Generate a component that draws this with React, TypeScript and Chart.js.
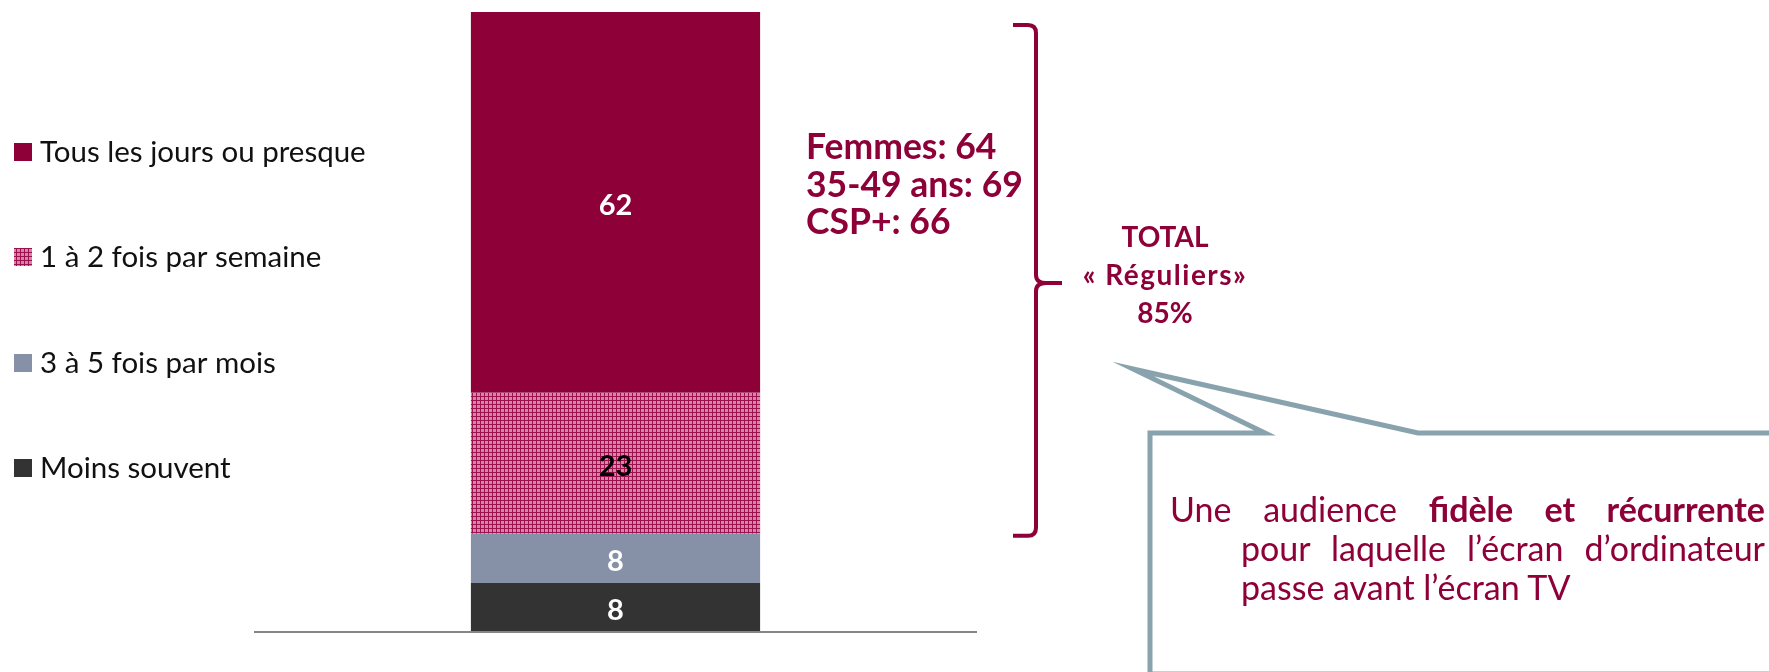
import React, { useEffect, useRef } from "react";
import { Chart, registerables } from "chart.js";

Chart.register(...registerables);

// ---- Data ----
const categories = ["Total"];
const seriesNames = [
  "Moins souvent",
  "3 à 5 fois par mois",
  "1 à 2 fois par semaine",
  "Tous les jours ou presque",
];
const moinsSouvent = [8];
const troisACinqParMois = [8];
const unADeuxParSemaine = [23];
const tousLesJours = [62];
const profileLines = ["Femmes: 64", "35-49 ans: 69", "CSP+: 66"];
const totalLines = ["TOTAL", "« Réguliers»", "85%"];
const reguliersFromValue = 16; // brace spans the "réguliers" part of the bar

// ---- Styles ----
const MAGENTA = "#8E0038";
const GREY_BLUE = "#8690A6";
const DARK = "#333333";
const CALLOUT = "#88A3AE";
const FONT = "Lato, 'Open Sans', sans-serif";

function makePattern(): CanvasPattern | string {
  const c = document.createElement("canvas");
  c.width = 4;
  c.height = 4;
  const x = c.getContext("2d");
  if (!x) return "#BA5483";
  x.fillStyle = "#D486AA";
  x.fillRect(0, 0, 4, 4);
  x.fillStyle = "#9C124E";
  x.fillRect(0, 0, 4, 1);
  x.fillRect(0, 0, 1, 4);
  const p = x.createPattern(c, "repeat");
  return p || "#BA5483";
}

export default function App() {
  const ref = useRef<HTMLCanvasElement | null>(null);

  useEffect(() => {
    const canvas = ref.current;
    if (!canvas) return;
    const pattern = makePattern();
    const colors = [DARK, GREY_BLUE, pattern, MAGENTA];
    const labelColors = ["#ffffff", "#ffffff", "#000000", "#ffffff"];
    const values = [moinsSouvent, troisACinqParMois, unADeuxParSemaine, tousLesJours];
    const total = values.reduce((s, v) => s + v[0], 0);

    const overlay = {
      id: "overlay",
      afterDatasetsDraw(chart: any) {
        const ctx = chart.ctx;
        ctx.save();
        ctx.font = `bold 29px ${FONT}`;
        ctx.textAlign = "center";
        ctx.textBaseline = "middle";
        chart.data.datasets.forEach((ds: any, i: number) => {
          const meta = chart.getDatasetMeta(i);
          meta.data.forEach((el: any, j: number) => {
            ctx.fillStyle = labelColors[i];
            ctx.fillText(String(ds.data[j]), el.x, (el.y + el.base) / 2 + 3);
          });
        });
        ctx.restore();
      },
      afterDraw(chart: any) {
        const ctx = chart.ctx;
        const area = chart.chartArea;
        const yScale = chart.scales.y;
        ctx.save();
        // axis line
        ctx.strokeStyle = "#868686";
        ctx.lineWidth = 2;
        ctx.beginPath();
        ctx.moveTo(area.left, area.bottom);
        ctx.lineTo(area.right, area.bottom);
        ctx.stroke();

        // legend (top to bottom = reverse of stacking order)
        const rows = [152, 257, 363, 468];
        ctx.font = `29.5px ${FONT}`;
        ctx.textAlign = "left";
        ctx.textBaseline = "alphabetic";
        for (let k = 0; k < 4; k++) {
          const di = 3 - k;
          ctx.fillStyle = colors[di];
          ctx.fillRect(14, rows[k] - 9, 18, 18);
          ctx.fillStyle = "#111111";
          ctx.fillText(seriesNames[di], 40, rows[k] + 10);
        }

        // brace
        const bx = 1036;
        const top = 25;
        const bottom = yScale.getPixelForValue(reguliersFromValue) + 2;
        const mid = 283;
        ctx.strokeStyle = MAGENTA;
        ctx.lineWidth = 4;
        ctx.lineJoin = "round";
        ctx.beginPath();
        ctx.moveTo(1013, top);
        ctx.lineTo(1028, top);
        ctx.quadraticCurveTo(bx, top, bx, top + 8);
        ctx.lineTo(bx, mid - 8);
        ctx.quadraticCurveTo(bx, mid, bx + 10, mid);
        ctx.lineTo(1062, mid);
        ctx.moveTo(bx + 10, mid);
        ctx.quadraticCurveTo(bx, mid, bx, mid + 8);
        ctx.lineTo(bx, bottom - 8);
        ctx.quadraticCurveTo(bx, bottom, 1028, bottom);
        ctx.lineTo(1013, bottom);
        ctx.stroke();

        // profile text
        ctx.fillStyle = MAGENTA;
        ctx.font = `bold 35.5px ${FONT}`;
        ctx.textAlign = "left";
        profileLines.forEach((t, i) => ctx.fillText(t, 806, 159 + i * 37.5));

        // total text
        ctx.font = `bold 28px ${FONT}`;
        ctx.textAlign = "center";
        totalLines.forEach((t, i) => {
          (ctx as any).letterSpacing = i === 1 ? "1.5px" : "0px";
          ctx.fillText(t, 1165, 247 + i * 38);
        });
        (ctx as any).letterSpacing = "0px";

        // callout shape
        ctx.strokeStyle = CALLOUT;
        ctx.lineWidth = 5;
        ctx.lineJoin = "miter";
        ctx.beginPath();
        ctx.moveTo(1780, 433);
        ctx.lineTo(1418, 433);
        ctx.lineTo(1133, 369);
        ctx.lineTo(1265, 433);
        ctx.lineTo(1150, 433);
        ctx.lineTo(1150, 674);
        ctx.lineTo(1780, 674);
        ctx.stroke();
        ctx.restore();
      },
    };

    const chart = new Chart(canvas, {
      type: "bar",
      data: {
        labels: categories,
        datasets: seriesNames.map((name, i) => ({
          label: name,
          data: values[i],
          backgroundColor: colors[i] as any,
          borderWidth: 0,
          barPercentage: 0.4,
          categoryPercentage: 1,
        })),
      },
      options: {
        animation: false,
        responsive: false,
        devicePixelRatio: 1,
        layout: { padding: { left: 254, right: 792, top: 12, bottom: 40 } },
        plugins: { legend: { display: false }, tooltip: { enabled: false } },
        scales: {
          x: { stacked: true, display: false },
          y: { stacked: true, display: false, min: 0, max: total },
        },
      },
      plugins: [overlay],
    });
    return () => chart.destroy();
  }, []);

  const textStyle: React.CSSProperties = {
    position: "absolute",
    fontFamily: FONT,
    fontSize: 34,
    lineHeight: "39px",
    color: MAGENTA,
    margin: 0,
  };

  return (
    <div style={{ position: "absolute", left: 0, top: 0, width: 1769, height: 672, overflow: "hidden", background: "#fff" }}>
      <canvas ref={ref} width={1769} height={672} style={{ position: "absolute", left: 0, top: 0, width: 1769, height: 672 }} />
      <div style={{ ...textStyle, left: 1170, top: 489, width: 595, textAlign: "justify", textAlignLast: "justify" }}>
        Une audience <b>fidèle et récurrente</b>
      </div>
      <div style={{ ...textStyle, left: 1241, top: 528, width: 524, textAlign: "justify", textAlignLast: "justify" }}>
        pour laquelle l’écran d’ordinateur
      </div>
      <div style={{ ...textStyle, left: 1241, top: 567, width: 524, textAlign: "left" }}>
        passe avant l’écran TV
      </div>
    </div>
  );
}
